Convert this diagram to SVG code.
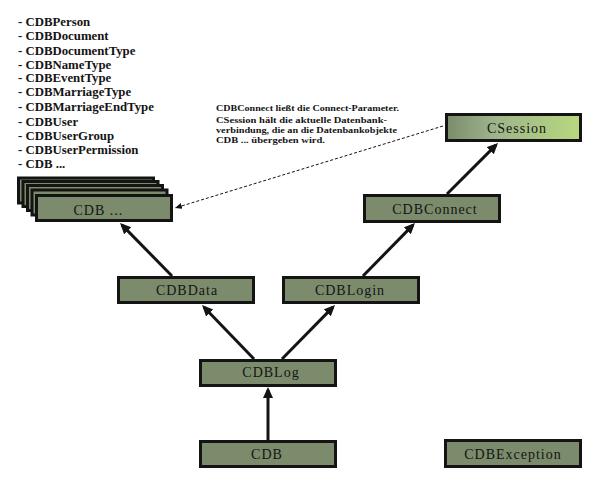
<svg xmlns="http://www.w3.org/2000/svg" width="600" height="486" viewBox="0 0 600 486">
<style>
.box{fill:#7b8b6b;stroke:#141414;stroke-width:3}
.lbl{font-family:"Liberation Serif","Times New Roman",serif;font-size:14px;fill:#141414;letter-spacing:1px}
.lst{font-family:"Liberation Serif","Times New Roman",serif;font-size:12.8px;font-weight:bold;fill:#141414}
.note{font-family:"Liberation Serif","Times New Roman",serif;font-size:8px;font-weight:bold;fill:#141414}
.arr{stroke:#141414;stroke-width:3;fill:none;marker-end:url(#ah)}
.dash{stroke:#141414;stroke-width:1;stroke-dasharray:3,2;fill:none;marker-end:url(#sah)}
</style>
<defs>
<marker id="ah" markerUnits="userSpaceOnUse" markerWidth="12" markerHeight="11" refX="8" refY="5" orient="auto">
<path d="M0,0 L11,5 L0,10 z" fill="#141414"/>
</marker>
<marker id="sah" markerUnits="userSpaceOnUse" markerWidth="8" markerHeight="7" refX="7" refY="3" orient="auto">
<path d="M0,0 L7,3 L0,6 z" fill="#141414"/>
</marker>
<linearGradient id="gs" x1="0" y1="0" x2="1" y2="0">
<stop offset="0" stop-color="#7b8b6b"/>
<stop offset="0.35" stop-color="#9db48b"/>
<stop offset="1" stop-color="#b8d87e"/>
</linearGradient>
</defs>

<g id="list">
<text class="lst" x="18" y="26">- CDBPerson</text>
<text class="lst" x="18" y="40">- CDBDocument</text>
<text class="lst" x="18" y="55">- CDBDocumentType</text>
<text class="lst" x="18" y="69">- CDBNameType</text>
<text class="lst" x="18" y="82">- CDBEventType</text>
<text class="lst" x="18" y="96">- CDBMarriageType</text>
<text class="lst" x="18" y="111">- CDBMarriageEndType</text>
<text class="lst" x="18" y="126">- CDBUser</text>
<text class="lst" x="18" y="140">- CDBUserGroup</text>
<text class="lst" x="18" y="154">- CDBUserPermission</text>
<text class="lst" x="18" y="168">- CDB ...</text>
</g>

<g id="note">
<text class="note" x="216" y="111" textLength="183" lengthAdjust="spacingAndGlyphs">CDBConnect ließt die Connect-Parameter.</text>
<text class="note" x="216" y="123" textLength="171" lengthAdjust="spacingAndGlyphs">CSession hält die aktuelle Datenbank-</text>
<text class="note" x="216" y="133" textLength="181" lengthAdjust="spacingAndGlyphs">verbindung, die an die Datenbankobjekte</text>
<text class="note" x="216" y="143" textLength="109" lengthAdjust="spacingAndGlyphs">CDB ... übergeben wird.</text>
</g>

<g id="connectors">
<line class="arr" x1="268" y1="440" x2="268" y2="390"/>
<line class="arr" x1="254" y1="359" x2="204.1" y2="307.2"/>
<line class="arr" x1="282" y1="359" x2="332.9" y2="307.1"/>
<line class="arr" x1="172" y1="276" x2="122.1" y2="225.1"/>
<line class="arr" x1="363" y1="276" x2="412.9" y2="225.1"/>
<line class="arr" x1="447" y1="194" x2="495.9" y2="145.1"/>
<line class="dash" x1="443" y1="126" x2="175" y2="208"/>
</g>

<g id="cdb-stack">
<rect class="box" x="18.5" y="178" width="135" height="25"/>
<rect class="box" x="23" y="181.5" width="135" height="25"/>
<rect class="box" x="27.5" y="185.5" width="135" height="25"/>
<rect class="box" x="32" y="190" width="135" height="25"/>
<rect class="box" x="36.5" y="195.5" width="135" height="25"/>
<text class="lbl" x="73.5" y="215">CDB ...</text>
</g>

<g id="csession">
<rect x="446.5" y="114.5" width="134" height="26" fill="url(#gs)" stroke="#141414" stroke-width="3"/>
<text class="lbl" x="517" y="133" text-anchor="middle">CSession</text>
</g>

<g id="cdbconnect">
<rect class="box" x="364.5" y="195.5" width="135" height="26"/>
<text class="lbl" x="435" y="214" text-anchor="middle">CDBConnect</text>
</g>

<g id="cdbdata">
<rect class="box" x="118.5" y="277.5" width="135" height="25"/>
<text class="lbl" x="187" y="295" text-anchor="middle">CDBData</text>
</g>

<g id="cdblogin">
<rect class="box" x="283.5" y="277.5" width="135" height="25"/>
<text class="lbl" x="350" y="295" text-anchor="middle">CDBLogin</text>
</g>

<g id="cdblog">
<rect class="box" x="200.5" y="360.5" width="135" height="25"/>
<text class="lbl" x="271" y="377" text-anchor="middle">CDBLog</text>
</g>

<g id="cdb">
<rect class="box" x="200.5" y="441.5" width="135" height="25"/>
<text class="lbl" x="267" y="459" text-anchor="middle">CDB</text>
</g>

<g id="cdbexception">
<rect class="box" x="445.5" y="440.5" width="135" height="26"/>
<text class="lbl" x="513" y="459" text-anchor="middle">CDBException</text>
</g>
</svg>
